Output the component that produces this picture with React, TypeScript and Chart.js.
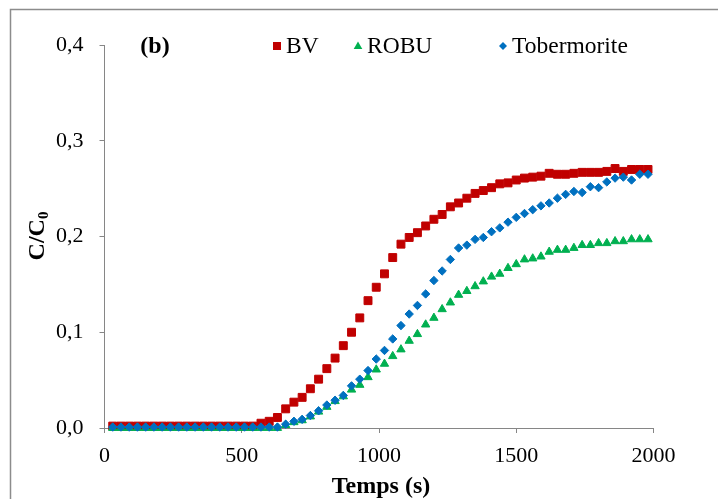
import React, { useEffect, useRef } from 'react';
import { Chart, registerables } from 'chart.js';

Chart.register(...registerables);

const times = [30, 60, 90, 120, 150, 180, 210, 240, 270, 300, 330, 360, 390, 420, 450, 480, 510, 540, 570, 600, 630, 660, 690, 720, 750, 780, 810, 840, 870, 900, 930, 960, 990, 1020, 1050, 1080, 1110, 1140, 1170, 1200, 1230, 1260, 1290, 1320, 1350, 1380, 1410, 1440, 1470, 1500, 1530, 1560, 1590, 1620, 1650, 1680, 1710, 1740, 1770, 1800, 1830, 1860, 1890, 1920, 1950, 1980];

const bv = [0.002, 0.002, 0.002, 0.002, 0.002, 0.002, 0.002, 0.002, 0.002, 0.002, 0.002, 0.002, 0.002, 0.002, 0.002, 0.002, 0.002, 0.002,
  0.005, 0.007, 0.011, 0.020, 0.027, 0.032, 0.041, 0.051, 0.062, 0.073, 0.086, 0.100, 0.115, 0.133, 0.147, 0.161, 0.178, 0.192, 0.199, 0.204,
  0.211, 0.218, 0.223, 0.231, 0.235, 0.240, 0.245, 0.248, 0.251, 0.255, 0.256, 0.259, 0.261, 0.262, 0.263, 0.266, 0.265, 0.265, 0.266, 0.267,
  0.267, 0.267, 0.268, 0.271, 0.268, 0.270, 0.270, 0.270];

const robu = [0, 0, 0, 0, 0, 0, 0, 0, 0, 0, 0, 0, 0, 0, 0, 0, 0, 0, 0, 0, 0,
  0.003, 0.006, 0.008, 0.012, 0.017, 0.022, 0.028, 0.033, 0.040, 0.045, 0.053, 0.061, 0.067, 0.075, 0.082, 0.091, 0.098, 0.108, 0.115, 0.124,
  0.131, 0.139, 0.143, 0.148, 0.153, 0.158, 0.161, 0.167, 0.171, 0.176, 0.177, 0.179, 0.184, 0.186, 0.186, 0.188, 0.191, 0.191, 0.193, 0.193,
  0.195, 0.195, 0.197, 0.197, 0.197];

const tobermorite = [0.001, 0.001, 0.001, 0.001, 0.001, 0.001, 0.001, 0.001, 0.001, 0.001, 0.001, 0.001, 0.001, 0.001, 0.001, 0.001, 0.001, 0.001, 0.001, 0.001, 0.001,
  0.004, 0.007, 0.009, 0.013, 0.018, 0.024, 0.029, 0.034, 0.044, 0.051, 0.060, 0.072, 0.081, 0.093, 0.107, 0.119, 0.128, 0.140, 0.154, 0.164,
  0.176, 0.188, 0.191, 0.197, 0.199, 0.205, 0.209, 0.215, 0.220, 0.224, 0.228, 0.232, 0.235, 0.240, 0.244, 0.247, 0.246, 0.252, 0.251, 0.257,
  0.261, 0.262, 0.259, 0.265, 0.265];

const seriesNames = ['BV', 'ROBU', 'Tobermorite'];
const seriesColors = ['#C00000', '#00B050', '#0070C0'];
const xTickValues = [0, 500, 1000, 1500, 2000];
const xTickLabels = ['0', '500', '1000', '1500', '2000'];
const yTickValues = [0, 0.1, 0.2, 0.3, 0.4];
const yTickLabels = ['0,0', '0,1', '0,2', '0,3', '0,4'];
const xTitle = 'Temps (s)';
const yTitleMain = 'C/C';
const yTitleSub = '0';
const panelLabel = '(b)';

const FONT = '"Liberation Serif", "Times New Roman", serif';
const AXIS_COLOR = '#868686';

function drawMarker(ctx: CanvasRenderingContext2D, style: string, x: number, y: number, color: string) {
  ctx.fillStyle = color;
  ctx.beginPath();
  if (style === 'rect') {
    ctx.rect(x - 4, y - 4, 8, 8);
  } else if (style === 'triangle') {
    ctx.moveTo(x, y - 4.5);
    ctx.lineTo(x + 4.3, y + 3);
    ctx.lineTo(x - 4.3, y + 3);
    ctx.closePath();
  } else {
    ctx.moveTo(x, y - 4);
    ctx.lineTo(x + 4, y);
    ctx.lineTo(x, y + 4);
    ctx.lineTo(x - 4, y);
    ctx.closePath();
  }
  ctx.fill();
}

const pointStyles = ['rect', 'triangle', 'rectRot'];
const legendMarkerX = [277, 358, 503];

const decorPlugin = {
  id: 'decor',
  afterDraw(chart: any) {
    const ctx: CanvasRenderingContext2D = chart.ctx;
    ctx.save();
    // outer frame
    ctx.strokeStyle = '#8c8c8c';
    ctx.lineWidth = 1.5;
    ctx.beginPath();
    ctx.moveTo(10.5, 499);
    ctx.lineTo(10.5, 9.5);
    ctx.lineTo(718, 9.5);
    ctx.stroke();

    ctx.fillStyle = '#000';
    ctx.textBaseline = 'middle';
    // panel label
    ctx.font = `bold 24px ${FONT}`;
    ctx.textAlign = 'center';
    ctx.fillText(panelLabel, 155, 47);

    // legend
    ctx.font = `23.5px ${FONT}`;
    ctx.textAlign = 'left';
    seriesNames.forEach((name, i) => {
      drawMarker(ctx, pointStyles[i], legendMarkerX[i], 46, seriesColors[i]);
      ctx.fillStyle = '#000';
      ctx.fillText(name, legendMarkerX[i] + 9, 47);
    });

    // x title
    ctx.font = `bold 24px ${FONT}`;
    ctx.textAlign = 'center';
    ctx.fillText(xTitle, 381, 487);

    // y title
    ctx.save();
    ctx.translate(38, 236);
    ctx.rotate(-Math.PI / 2);
    ctx.font = `bold 24px ${FONT}`;
    const w1 = ctx.measureText(yTitleMain).width;
    ctx.font = `bold 15px ${FONT}`;
    const w2 = ctx.measureText(yTitleSub).width;
    const start = -(w1 + w2) / 2;
    ctx.textAlign = 'left';
    ctx.font = `bold 24px ${FONT}`;
    ctx.fillText(yTitleMain, start, 0);
    ctx.font = `bold 15px ${FONT}`;
    ctx.fillText(yTitleSub, start + w1, 6);
    ctx.restore();

    ctx.restore();
  },
};

export default function App() {
  const ref = useRef<HTMLCanvasElement | null>(null);

  useEffect(() => {
    if (!ref.current) return;
    const mk = (vals: number[]) => times.map((t, i) => ({ x: t, y: vals[i] }));
    const chart = new Chart(ref.current, {
      type: 'scatter',
      data: {
        datasets: [
          {
            label: seriesNames[0],
            data: mk(bv),
            pointStyle: 'rect',
            pointRadius: 5.6,
            pointBorderWidth: 1,
            backgroundColor: seriesColors[0],
            borderColor: seriesColors[0],
            order: 3,
            clip: false,
          },
          {
            label: seriesNames[1],
            data: mk(robu),
            pointStyle: 'triangle',
            pointRadius: 4.8,
            pointBorderWidth: 1,
            backgroundColor: seriesColors[1],
            borderColor: seriesColors[1],
            order: 2,
            clip: false,
          },
          {
            label: seriesNames[2],
            data: mk(tobermorite),
            pointStyle: 'rectRot',
            pointRadius: 4.2,
            pointBorderWidth: 1,
            backgroundColor: seriesColors[2],
            borderColor: seriesColors[2],
            order: 1,
            clip: false,
          },
        ] as any,
      },
      options: {
        responsive: false,
        animation: false,
        devicePixelRatio: 1,
        layout: { padding: { left: 0, top: 45, right: 64.5, bottom: 0 } },
        plugins: {
          legend: { display: false },
          tooltip: { enabled: false },
        },
        scales: {
          x: {
            type: 'linear',
            min: 0,
            max: 2000,
            afterBuildTicks: (s: any) => {
              s.ticks = xTickValues.map((v) => ({ value: v }));
            },
            afterFit: (s: any) => {
              s.height = 71;
            },
            ticks: {
              autoSkip: false,
              maxRotation: 0,
              padding: 10,
              color: '#000',
              font: { family: FONT, size: 22 },
              callback: (_v: any, i: number) => xTickLabels[i],
            },
            grid: {
              display: true,
              drawOnChartArea: false,
              drawTicks: true,
              tickLength: 5,
              color: AXIS_COLOR,
            },
            border: { display: true, color: AXIS_COLOR, width: 1 },
          },
          y: {
            type: 'linear',
            min: 0,
            max: 0.4,
            afterBuildTicks: (s: any) => {
              s.ticks = yTickValues.map((v) => ({ value: v }));
            },
            afterFit: (s: any) => {
              s.width = 104.5;
            },
            ticks: {
              autoSkip: false,
              padding: 16,
              color: '#000',
              font: { family: FONT, size: 22 },
              callback: (_v: any, i: number) => yTickLabels[i],
            },
            grid: {
              display: true,
              drawOnChartArea: false,
              drawTicks: true,
              tickLength: 5,
              color: AXIS_COLOR,
            },
            border: { display: true, color: AXIS_COLOR, width: 1 },
          },
        },
      } as any,
      plugins: [decorPlugin],
    });
    return () => chart.destroy();
  }, []);

  return (
    <div style={{ position: 'fixed', left: 0, top: 0, width: 718, height: 499, background: '#fff', overflow: 'hidden' }}>
      <canvas ref={ref} width={718} height={499} style={{ display: 'block', width: 718, height: 499 }} />
    </div>
  );
}
